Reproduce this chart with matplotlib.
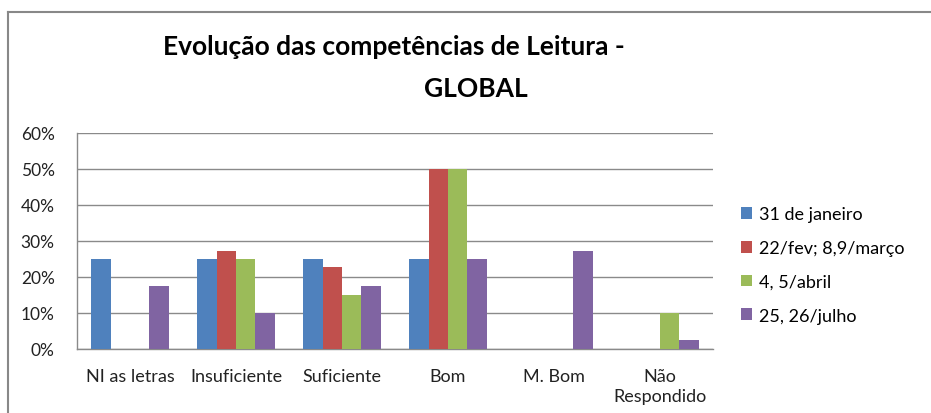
import numpy as np
import matplotlib
matplotlib.use("Agg")
import matplotlib.pyplot as plt
from matplotlib.lines import Line2D
from matplotlib.ticker import PercentFormatter

plt.rcParams['font.family'] = ['Lato', 'DejaVu Sans']

categories = ["NI as letras", "Insuficiente", "Suficiente", "Bom", "M. Bom", "Não\nRespondido"]
series_names = ["31 de janeiro", "22/fev; 8,9/março", "4, 5/abril", "25, 26/julho"]
jan = [25, 25, 25, 25, 0, 0]
fev_mar = [0, 27.3, 22.7, 50, 0, 0]
abril = [0, 25, 15, 50, 0, 10]
julho = [17.5, 10, 17.5, 25, 27.3, 2.5]
colors = ["#4F81BD", "#C0504D", "#9BBB59", "#8064A2"]

W, H = 931, 414
fig = plt.figure(figsize=(W / 100, H / 100), dpi=100)
ax = fig.add_axes([77 / W, (H - 350) / H, (713 - 77) / W, 216 / H])

x = np.arange(len(categories))
bw = 0.182
for i, (vals, name, c) in enumerate(zip([jan, fev_mar, abril, julho], series_names, colors)):
    ax.bar(x + (i - 1.5) * bw, vals, bw, color=c, label=name, zorder=3)

ax.set_xlim(-0.5, len(categories) - 0.5)
ax.set_ylim(0, 60)
ax.set_yticks(range(0, 61, 10))
ax.yaxis.set_major_formatter(PercentFormatter(decimals=0))
ax.set_xticks(x)
ax.set_xticklabels(categories, fontsize=13, color="#222222", linespacing=1.3)
ax.tick_params(axis="y", labelsize=12.5, colors="#222222", length=0, pad=16)
ax.tick_params(axis="x", length=0, pad=14)
ax.grid(axis="y", color="#8a8a8a", linewidth=1, zorder=0)
for s in ["top", "right"]:
    ax.spines[s].set_visible(False)
for s in ["left", "bottom"]:
    ax.spines[s].set_color("#8a8a8a")
    ax.spines[s].set_linewidth(1)

fig.text(394 / W, 1 - 47 / H, "Evolução das competências de Leitura -", ha="center", va="center",
         fontsize=19, fontweight="bold")
fig.text(476 / W, 1 - 89 / H, "GLOBAL", ha="center", va="center", fontsize=19, fontweight="bold")

ax.legend(loc="center left", bbox_to_anchor=(741 / W, 1 - 266 / H), bbox_transform=fig.transFigure,
          frameon=False, fontsize=13, handlelength=0.62, handleheight=0.62, handletextpad=0.35,
          labelspacing=0.98, borderaxespad=0, borderpad=0)

# chart area border (right/bottom edges cut off)
fig.add_artist(Line2D([8 / W, 8 / W], [0, 1 - 13 / H], transform=fig.transFigure, color="#888888", lw=1.5))
fig.add_artist(Line2D([8 / W, 1], [1 - 13 / H, 1 - 13 / H], transform=fig.transFigure, color="#888888", lw=1.5))

fig.savefig("out.png", dpi=100)
